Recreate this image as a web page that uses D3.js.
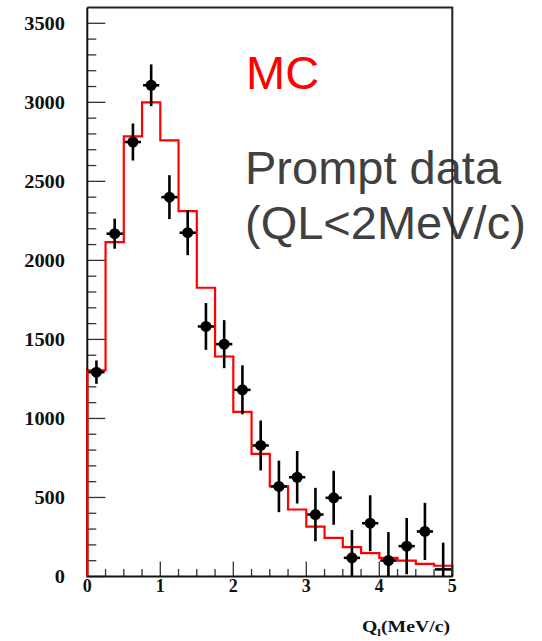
<!DOCTYPE html>
<html>
<head>
<meta charset="utf-8">
<script src="https://cdn.jsdelivr.net/npm/d3@7"></script>
<style>
  html, body { margin: 0; padding: 0; background: #fff; }
  svg { display: block; }
</style>
</head>
<body>
<svg id="chart" width="542" height="641"></svg>
<script>
// Bin edges of the Q_l histogram (MeV/c), 0.25 wide
const binEdges = [0, 0.25, 0.5, 0.75, 1, 1.25, 1.5, 1.75, 2, 2.25, 2.5,
                  2.75, 3, 3.25, 3.5, 3.75, 4, 4.25, 4.5, 4.75, 5];
// Monte Carlo expectation per bin
const mcCounts = [1304, 2116, 2785, 3000, 2759, 2312, 1827, 1392, 1042, 776,
                  570, 424, 316, 245, 186, 148, 118, 101, 80, 68];
// Prompt data per bin and its statistical error
const dataCounts = [1293, 2169, 2749, 3108, 2400, 2175, 1582, 1470, 1181, 829,
                    570, 628, 392, 498, 118, 337, 101, 192, 285, 45];
const dataErrors = [74, 95, 117, 132, 139, 142, 148, 152, 155, 158,
                    163, 166, 169, 171, 176, 177, 180, 178, 181, 169];
// the last bin has no visible marker
const dataMarker = [true, true, true, true, true, true, true, true, true, true,
                    true, true, true, true, true, true, true, true, true, false];
const yTickLabels = [0, 500, 1000, 1500, 2000, 2500, 3000, 3500];
const xTickLabels = [0, 1, 2, 3, 4, 5];

const svg = d3.select("#chart");
const x = d3.scaleLinear().domain([0, 5]).range([87.3, 452.3]);
const y = d3.scaleLinear().domain([0, 3600]).range([576.5, 7.5]);

// Annotations (behind the frame)
svg.append("text").attr("x", 246).attr("y", 89)
  .attr("font-family", "Liberation Sans, Arial, sans-serif").attr("font-size", 47)
  .attr("fill", "#ff0000").text("MC");
svg.append("text").attr("x", 245).attr("y", 183.5)
  .attr("font-family", "Liberation Sans, Arial, sans-serif").attr("font-size", 47)
  .attr("fill", "#404040").text("Prompt data");
svg.append("text").attr("x", 245).attr("y", 238.5)
  .attr("font-family", "Liberation Sans, Arial, sans-serif").attr("font-size", 47)
  .attr("fill", "#404040").text("(QL<2MeV/c)");

// Ticks, pointing into the plot
const yMinor = d3.range(0, 3600, 100);
svg.append("g").selectAll("line").data(yMinor).join("line")
  .attr("x1", x(0)).attr("x2", d => x(0) + (d % 500 === 0 ? 18 : 9))
  .attr("y1", d => y(d)).attr("y2", d => y(d))
  .attr("stroke", "#333").attr("stroke-width", 1.3);
const xMinor = d3.range(0, 5.001, 0.25);
svg.append("g").selectAll("line").data(xMinor).join("line")
  .attr("x1", d => x(d)).attr("x2", d => x(d))
  .attr("y1", y(0)).attr("y2", d => y(0) - (Math.abs(d - Math.round(d)) < 1e-6 ? 15 : 7.5))
  .attr("stroke", "#333").attr("stroke-width", 1.3);

// MC histogram outline
const pts = [[binEdges[0], 0]];
mcCounts.forEach((v, i) => { pts.push([binEdges[i], v]); pts.push([binEdges[i + 1], v]); });
pts.push([binEdges[binEdges.length - 1], 0]);
svg.append("path")
  .attr("d", d3.line().x(d => x(d[0])).y(d => y(d[1]))(pts))
  .attr("fill", "none").attr("stroke", "#ff0000").attr("stroke-width", 2.2);

// Data points with error bars
const pts2 = dataCounts.map((v, i) => ({
  lo: binEdges[i], hi: binEdges[i + 1], c: (binEdges[i] + binEdges[i + 1]) / 2,
  v, e: dataErrors[i], m: dataMarker[i]
}));
const g = svg.append("g");
g.selectAll("line.v").data(pts2).join("line").attr("class", "v")
  .attr("x1", d => x(d.c)).attr("x2", d => x(d.c))
  .attr("y1", d => y(Math.max(0, d.v - d.e))).attr("y2", d => y(d.v + d.e))
  .attr("stroke", "#000").attr("stroke-width", 2.6);
g.selectAll("line.h").data(pts2).join("line").attr("class", "h")
  .attr("x1", d => x(d.lo) + 1).attr("x2", d => x(d.hi) - 1)
  .attr("y1", d => y(d.v)).attr("y2", d => y(d.v))
  .attr("stroke", "#000").attr("stroke-width", 2.6);
g.selectAll("circle").data(pts2.filter(d => d.m)).join("circle")
  .attr("cx", d => x(d.c)).attr("cy", d => y(d.v)).attr("r", 5.5)
  .attr("fill", "#000");

// Frame
svg.append("path")
  .attr("d", `M${x(0)},${y(3600)}H${x(5)}V${y(0)}`)
  .attr("fill", "none").attr("stroke", "#222").attr("stroke-width", 2);
svg.append("path")
  .attr("d", `M${x(0)},${y(3600)}V${y(0)}H${x(5)}`)
  .attr("fill", "none").attr("stroke", "#111").attr("stroke-width", 2);
// MC edge along the left axis
svg.append("line").attr("x1", x(0)).attr("x2", x(0)).attr("y1", y(0)).attr("y2", y(mcCounts[0]))
  .attr("stroke", "#ff0000").attr("stroke-width", 2);

// Tick labels
const serif = "Liberation Serif, Times New Roman, serif";
svg.append("g").selectAll("text").data(yTickLabels).join("text")
  .attr("x", 65).attr("y", d => y(d) + 6.3)
  .attr("text-anchor", "end").attr("font-family", serif).attr("font-weight", "bold")
  .attr("font-size", 18.5).attr("fill", "#111")
  .attr("textLength", d => String(d).length * 10.2).attr("lengthAdjust", "spacingAndGlyphs")
  .text(d => d);
svg.append("g").selectAll("text").data(xTickLabels).join("text")
  .attr("x", d => x(d)).attr("y", 592)
  .attr("text-anchor", "middle").attr("font-family", serif).attr("font-weight", "bold")
  .attr("font-size", 18).attr("fill", "#111")
  .text(d => d);

// Axis title
const t = svg.append("text").attr("x", 450).attr("y", 631.5)
  .attr("text-anchor", "end").attr("font-family", serif).attr("font-weight", "bold")
  .attr("font-size", 17).attr("fill", "#111")
  .attr("textLength", 88).attr("lengthAdjust", "spacingAndGlyphs");
t.append("tspan").text("Q");
t.append("tspan").attr("font-size", 11).attr("dy", 4).text("l");
t.append("tspan").attr("dy", -4).text("(MeV/c)");
</script>
</body>
</html>
